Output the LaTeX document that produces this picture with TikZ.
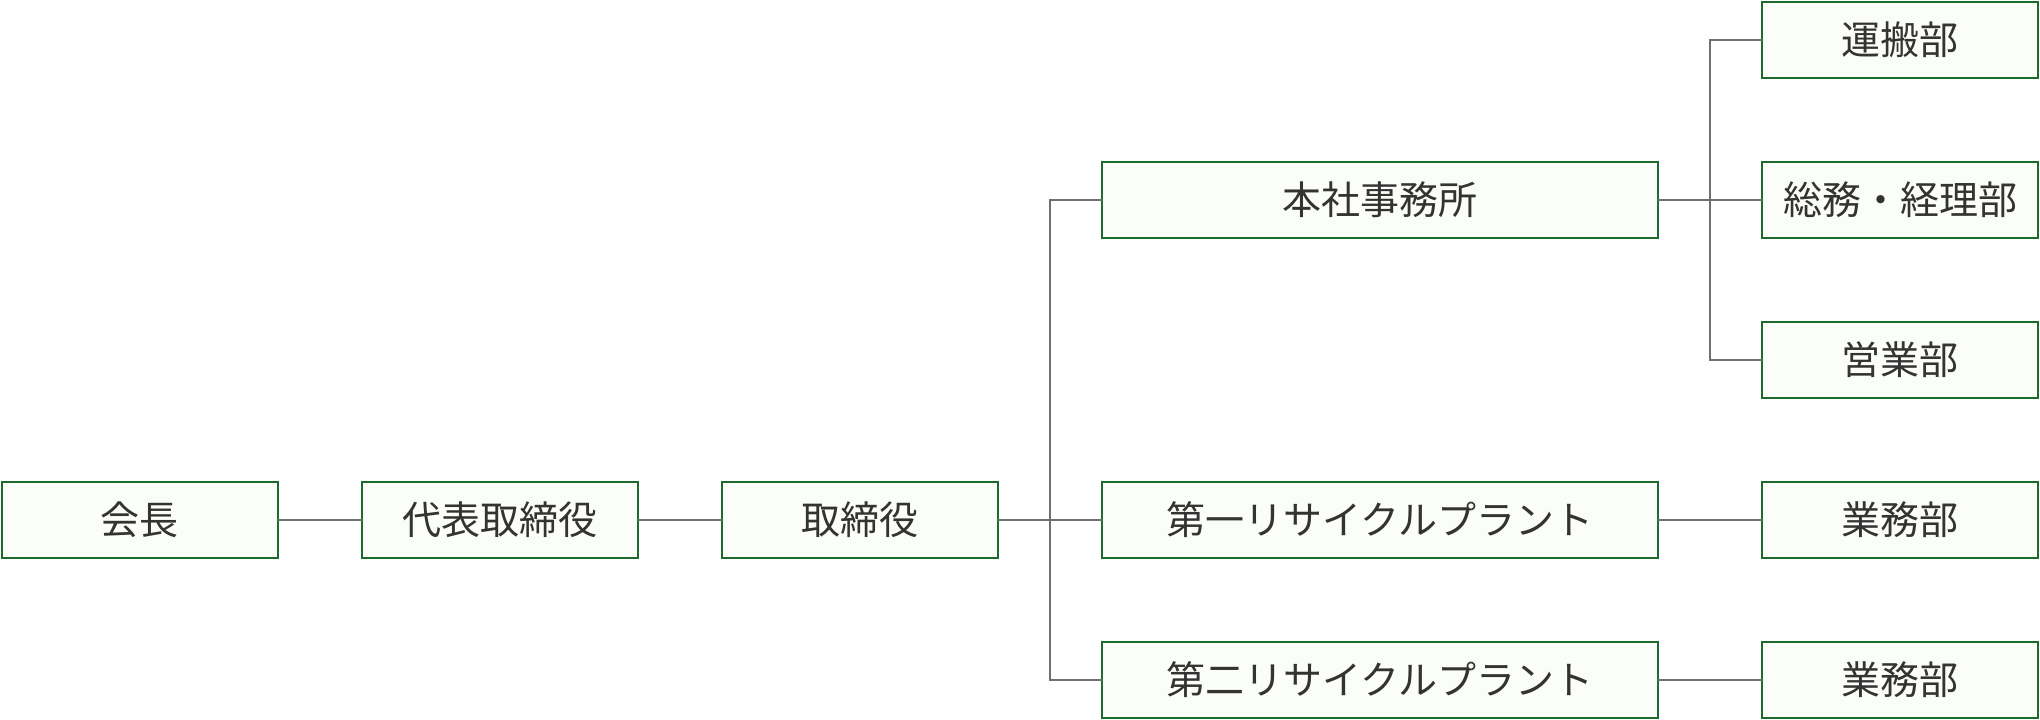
\documentclass[tikz,border=0pt]{standalone}
\usepackage{fontspec}
\setmainfont{Noto Sans CJK JP}
\definecolor{boxline}{HTML}{1E6B2E}
\definecolor{boxfill}{HTML}{FBFDF8}
\definecolor{conn}{HTML}{707070}
\definecolor{txt}{HTML}{333333}
\begin{document}
\begin{tikzpicture}[x=1pt,y=-1pt,
  orgbox/.style={draw=boxline,fill=boxfill,line width=2pt,minimum height=76pt,
    inner sep=0pt,outer sep=0pt,text=txt,font=\fontsize{39pt}{44pt}\selectfont},
  smallbox/.style={orgbox,minimum width=276pt},
  widebox/.style={orgbox,minimum width=556pt},
  link/.style={draw=conn,line width=1.5pt}]
\useasboundingbox (0,0) rectangle (2040,720);
\node[smallbox] (kaicho) at (139.5,520) {会長};
\node[smallbox] (daihyo) at (500,520) {代表取締役};
\node[smallbox] (tori) at (860,520) {取締役};
\node[widebox] (honsha) at (1380,200) {本社事務所};
\node[widebox] (dai1) at (1380,520) {第一リサイクルプラント};
\node[widebox] (dai2) at (1380,680) {第二リサイクルプラント};
\node[smallbox] (unpan) at (1900,40) {運搬部};
\node[smallbox] (soumu) at (1900,200) {総務・経理部};
\node[smallbox] (eigyo) at (1900,360) {営業部};
\node[smallbox] (gyomu1) at (1900,520) {業務部};
\node[smallbox] (gyomu2) at (1900,680) {業務部};
\coordinate (b1) at (1050,520);
\coordinate (b2) at (1710,200);
\draw[link] (kaicho.east) -- (daihyo.west);
\draw[link] (daihyo.east) -- (tori.west);
\draw[link] (tori.east) -- (dai1.west);
\draw[link] (b1) |- (honsha.west);
\draw[link] (b1) |- (dai2.west);
\draw[link] (honsha.east) -- (soumu.west);
\draw[link] (b2) |- (unpan.west);
\draw[link] (b2) |- (eigyo.west);
\draw[link] (dai1.east) -- (gyomu1.west);
\draw[link] (dai2.east) -- (gyomu2.west);
\end{tikzpicture}
\end{document}
